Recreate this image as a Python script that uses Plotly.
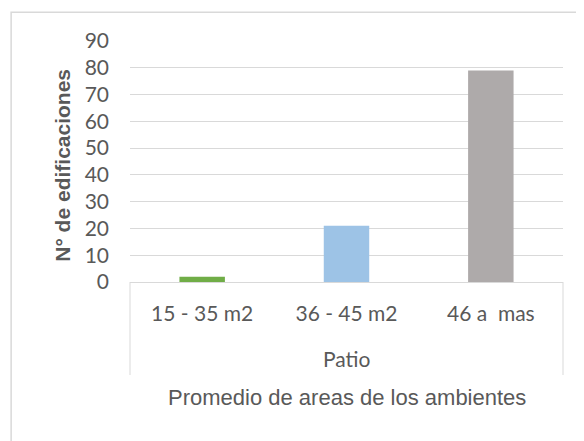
import plotly.graph_objects as go

categories = ["15 - 35 m2", "36 - 45 m2", "46 a  mas"]
values = [2, 21, 79]
bar_colors = ["#70ad47", "#9dc3e6", "#aeaaaa"]
group_label = "Patio"
x_title = "Promedio de areas de los ambientes"
y_title = "N° de edificaciones"
y_ticks = [0, 10, 20, 30, 40, 50, 60, 70, 80, 90]

OFF = 8  # browser default body margin
W, H = 584 - OFF, 441 - OFF
L, R, T, B = 130 - OFF, 20.5, 41 - OFF, 159
plot_h = H - T - B
plot_w = W - L - R

def py(p):  # page pixel y -> paper y
    return (H - B - (p - OFF)) / plot_h

def px(p):  # page pixel x -> paper x
    return ((p - OFF) - L) / plot_w

text_col = "#595959"
grid_col = "#d9d9d9"
tick_font = dict(family="Lato, Open Sans, sans-serif", size=21, color=text_col)
sans = "Liberation Sans, Arial, sans-serif"

fig = go.Figure(go.Bar(x=categories, y=values, marker=dict(color=bar_colors, line=dict(width=0))))

fig.update_layout(
    width=W, height=H,
    margin=dict(l=L, r=R, t=T, b=B, pad=0),
    paper_bgcolor="white", plot_bgcolor="white",
    bargap=0.685,
    showlegend=False,
    xaxis=dict(type="category", showline=True, linecolor=grid_col, linewidth=1,
               ticks="", tickfont=tick_font, ticklabelstandoff=13, showgrid=False),
    yaxis=dict(range=[0, 90], tickvals=y_ticks, showgrid=True, gridcolor=grid_col,
               gridwidth=1, zeroline=False, ticks="", tickfont=tick_font,
               ticklabelstandoff=20, showline=False),
    shapes=[
        dict(type="line", xref="x domain", yref="paper", x0=0, x1=0, y0=0, y1=py(375),
             line=dict(color=grid_col, width=1)),
        dict(type="line", xref="x domain", yref="paper", x0=1, x1=1, y0=0, y1=py(375),
             line=dict(color=grid_col, width=1)),
        dict(type="rect", xref="paper", yref="paper", x0=px(11), x1=px(600), y0=py(12.3), y1=py(460),
             line=dict(color=grid_col, width=1.5), layer="below"),
    ],
    annotations=[
        dict(text=group_label, xref="paper", yref="paper", x=0.5, y=py(358), showarrow=False,
             xanchor="center", yanchor="middle", font=tick_font),
        dict(text=x_title, xref="paper", yref="paper", x=px(347.5), y=py(397), showarrow=False,
             xanchor="center", yanchor="middle", font=dict(family=sans, size=22, color=text_col)),
        dict(text="<b>" + y_title + "</b>", xref="paper", yref="paper", x=px(61.7), y=py(165),
             showarrow=False, textangle=-90, xanchor="center", yanchor="middle",
             font=dict(family=sans, size=21, color=text_col)),
    ],
)

fig.write_html("out.html")
